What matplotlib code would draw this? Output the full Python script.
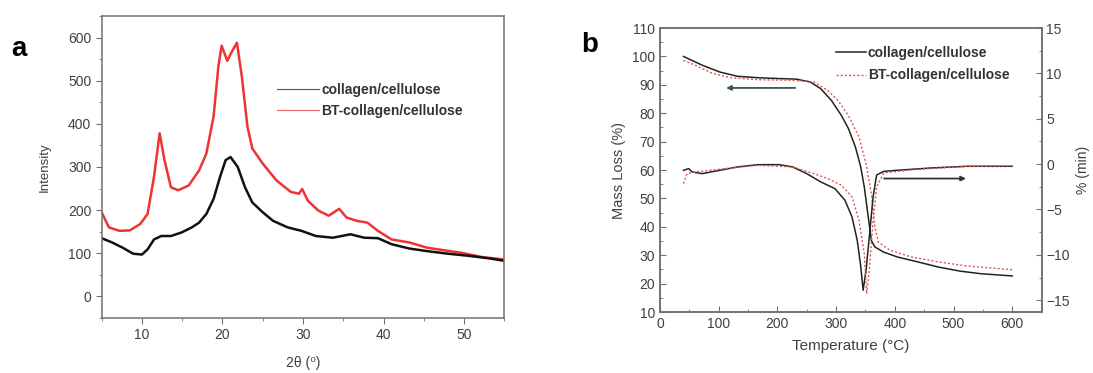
import matplotlib
matplotlib.use("Agg")
import matplotlib.pyplot as plt
from matplotlib.ticker import MultipleLocator
from matplotlib.lines import Line2D

plt.rcParams['font.family'] = ['Liberation Sans', 'DejaVu Sans']

# ---------------- Panel a: XRD ----------------
xrd_bt_x = [5.0, 5.9, 7.2, 8.5, 9.8, 10.7, 11.5, 12.2, 12.8, 13.6, 14.5, 15.8, 17.1, 18.0, 18.9,
            19.5, 19.9, 20.6, 21.1, 21.8, 22.4, 23.1, 23.7, 25.0, 26.7, 28.5, 29.5, 29.9, 30.6,
            31.9, 33.2, 34.5, 35.4, 36.7, 38.0, 39.3, 41.0, 43.2, 45.4, 47.5, 49.7, 52.3, 54.8]
xrd_bt_y = [195, 160, 152, 153, 168, 191, 277, 378, 316, 253, 246, 257, 292, 331, 417,
            534, 581, 546, 565, 588, 511, 394, 343, 308, 269, 242, 238, 249, 222,
            199, 187, 203, 183, 175, 171, 152, 132, 125, 113, 107, 101, 91, 86]

xrd_cc_x = [5.0, 6.3, 7.6, 8.9, 10.0, 10.7, 11.5, 12.4, 13.6, 14.9, 16.2, 17.1, 18.0, 18.9, 19.7,
            20.4, 21.0, 21.9, 22.8, 23.7, 25.0, 26.3, 28.1, 29.8, 31.6, 33.7, 35.9, 37.6, 39.3,
            41.0, 43.2, 45.4, 48.0, 50.6, 53.2, 54.8]
xrd_cc_y = [135, 125, 113, 99, 97, 109, 132, 140, 140, 148, 160, 171, 191, 226, 277,
            316, 323, 300, 253, 218, 195, 175, 160, 152, 140, 136, 144, 136, 135,
            121, 111, 105, 99, 94, 88, 83]

# ---------------- Panel b: TG / DTG ----------------
tg_cc_x = [40, 72, 102, 132, 167, 203, 232, 256, 274, 292, 309, 321, 333, 342, 348, 354, 360,
           366, 381, 404, 440, 475, 511, 546, 600]
tg_cc_y = [100, 96.9, 94.5, 93, 92.5, 92.2, 92, 91, 88.6, 84.5, 79.2, 74.6, 68, 61, 54, 44.6,
           35.2, 32.9, 31.1, 29.4, 27.6, 25.8, 24.4, 23.5, 22.7]

tg_bt_x = [40, 60, 90, 120, 167, 226, 262, 286, 303, 321, 339, 351, 360, 366, 372, 392, 428,
           475, 523, 600]
tg_bt_y = [98.6, 96.9, 94, 92.5, 91.8, 91.6, 91, 88, 84.5, 79.2, 71.6, 62.2, 51.7, 40, 34.6,
           31.7, 29.4, 27.6, 26.2, 24.9]

dtg_cc_x = [40, 49, 55, 72, 96, 132, 167, 203, 226, 250, 274, 298, 315, 327, 336, 342, 346,
            351, 357, 363, 369, 381, 404, 463, 523, 600]
dtg_cc_y = [-0.68, -0.5, -0.87, -1.05, -0.75, -0.31, -0.06, -0.06, -0.31, -1.05, -1.97, -2.7,
            -3.98, -5.8, -8.4, -11.3, -13.9, -11.7, -7.7, -3.6, -1.2, -0.8, -0.68, -0.42,
            -0.24, -0.24]

dtg_bt_x = [40, 46, 60, 96, 167, 226, 262, 286, 309, 327, 339, 348, 352, 357, 363, 369, 381,
            434, 523, 600]
dtg_bt_y = [-2.15, -1.05, -0.87, -0.6, -0.13, -0.31, -1.05, -1.6, -2.33, -3.6, -6.2, -9.9,
            -14.3, -11.3, -6.2, -2.5, -0.97, -0.6, -0.24, -0.2]

labels = ['collagen/cellulose', 'BT-collagen/cellulose']

spine_c = '#707070'
tick_c = '#404040'

fig = plt.figure(figsize=(10.93, 3.73), dpi=100)

# ---- panel a ----
axa = fig.add_axes([0.0930, 0.1475, 0.3684, 0.8097])
axa.plot(xrd_bt_x, xrd_bt_y, color='#ee3333', lw=1.8)
axa.plot(xrd_cc_x, xrd_cc_y, color='#111111', lw=1.8)
axa.set_xlim(5, 55)
axa.set_ylim(-50, 650)
axa.xaxis.set_major_locator(MultipleLocator(10))
axa.xaxis.set_minor_locator(MultipleLocator(5))
axa.yaxis.set_major_locator(MultipleLocator(100))
axa.yaxis.set_minor_locator(MultipleLocator(50))
axa.tick_params(which='both', direction='out', colors=spine_c, labelcolor=tick_c, labelsize=10)
axa.tick_params(which='major', length=4)
axa.tick_params(which='minor', length=2)
for s in axa.spines.values():
    s.set_color(spine_c)
    s.set_linewidth(1.1)
axa.set_ylabel('Intensity', fontsize=9.5, color=tick_c, labelpad=12)
axa.set_xlabel('2θ (⁰)', fontsize=10, color=tick_c, labelpad=10)
ha = [Line2D([], [], color='#555555', lw=0.8), Line2D([], [], color='#ee6666', lw=0.8)]
leg = axa.legend(ha, labels, loc='upper left', bbox_to_anchor=(0.422, 0.797), frameon=False,
                 prop={'weight': 'bold', 'size': 10}, handlelength=3.0, handletextpad=0.2,
                 labelspacing=0.5, borderaxespad=0)
for t in leg.get_texts():
    t.set_color('#333333')
fig.text(0.010, 0.869, 'a', fontsize=20, fontweight='bold', va='center')

# ---- panel b ----
axb = fig.add_axes([0.6038, 0.1635, 0.3492, 0.7614])
axb.plot(tg_cc_x, tg_cc_y, color='#222222', lw=1.1)
axb.plot(tg_bt_x, tg_bt_y, color='#e05555', lw=1.0, ls=(0, (1.5, 1.5)))
axb.set_xlim(0, 650)
axb.set_ylim(10, 110)
axb.xaxis.set_major_locator(MultipleLocator(100))
axb.xaxis.set_minor_locator(MultipleLocator(50))
axb.yaxis.set_major_locator(MultipleLocator(10))
axb.yaxis.set_minor_locator(MultipleLocator(5))
axb.tick_params(which='both', direction='in', colors=spine_c, labelcolor=tick_c, labelsize=10)
axb.tick_params(which='major', length=4)
axb.tick_params(which='minor', length=2)
axb.set_xlabel('Temperature (°C)', fontsize=11, color=tick_c, labelpad=6)
axb.set_ylabel('Mass Loss (%)', fontsize=10.5, color=tick_c, labelpad=4)

axr = axb.twinx()
axr.plot(dtg_cc_x, dtg_cc_y, color='#222222', lw=1.1)
axr.plot(dtg_bt_x, dtg_bt_y, color='#e05555', lw=1.0, ls=(0, (1.5, 1.5)))
axr.set_ylim(-16.3, 15)
axr.yaxis.set_major_locator(MultipleLocator(5))
axr.yaxis.set_minor_locator(MultipleLocator(2.5))
axr.tick_params(which='both', direction='in', colors=spine_c, labelcolor=tick_c, labelsize=10)
axr.tick_params(which='major', length=4)
axr.tick_params(which='minor', length=2)
axr.set_ylabel('% (min)', fontsize=10, color=tick_c, rotation=90, labelpad=4)
for ax in (axb, axr):
    for s in ax.spines.values():
        s.set_color(spine_c)
        s.set_linewidth(1.1)

# arrows (in TG data coordinates)
axb.annotate('', xy=(108, 88.9), xytext=(235, 88.9),
             arrowprops=dict(arrowstyle='-|>', color='#3a5550', lw=1.3, mutation_scale=7))
axb.annotate('', xy=(526, 57), xytext=(377, 57),
             arrowprops=dict(arrowstyle='-|>', color='#333333', lw=1.3, mutation_scale=7))

hb = [Line2D([], [], color='#222222', lw=1.1),
      Line2D([], [], color='#e05555', lw=1.0, ls=(0, (1.5, 1.5)))]
legb = axb.legend(hb, labels, loc='upper left', bbox_to_anchor=(0.448, 0.956), frameon=False,
                  prop={'weight': 'bold', 'size': 10}, handlelength=2.1, handletextpad=0.15,
                  labelspacing=0.6, borderaxespad=0)
for t in legb.get_texts():
    t.set_color('#333333')
fig.text(0.532, 0.879, 'b', fontsize=20, fontweight='bold', va='center')

fig.savefig('out.png', dpi=100)
